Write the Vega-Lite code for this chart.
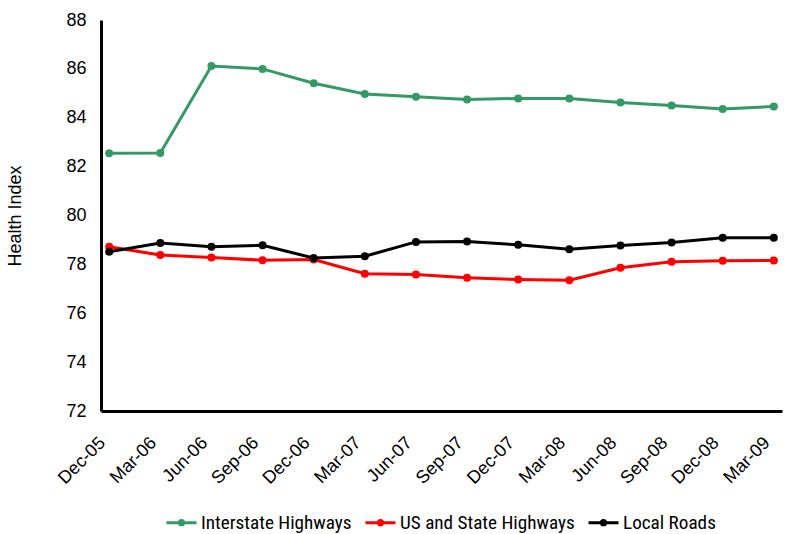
{
  "$schema": "https://vega.github.io/schema/vega-lite/v6.json",
  "width": 681,
  "height": 391,
  "autosize": {"type": "none"},
  "padding": {"left": 101, "top": 20, "right": 5, "bottom": 123},
  "background": "white",
  "config": {
    "view": {"stroke": null},
    "font": "Liberation Sans, Arial, sans-serif"
  },
  "data": {
    "values": [
      {"date": "Dec-05", "series": "Interstate Highways", "value": 82.55},
      {"date": "Mar-06", "series": "Interstate Highways", "value": 82.56},
      {"date": "Jun-06", "series": "Interstate Highways", "value": 86.12},
      {"date": "Sep-06", "series": "Interstate Highways", "value": 86.0},
      {"date": "Dec-06", "series": "Interstate Highways", "value": 85.41},
      {"date": "Mar-07", "series": "Interstate Highways", "value": 84.97},
      {"date": "Jun-07", "series": "Interstate Highways", "value": 84.86},
      {"date": "Sep-07", "series": "Interstate Highways", "value": 84.75},
      {"date": "Dec-07", "series": "Interstate Highways", "value": 84.79},
      {"date": "Mar-08", "series": "Interstate Highways", "value": 84.79},
      {"date": "Jun-08", "series": "Interstate Highways", "value": 84.62},
      {"date": "Sep-08", "series": "Interstate Highways", "value": 84.5},
      {"date": "Dec-08", "series": "Interstate Highways", "value": 84.36},
      {"date": "Mar-09", "series": "Interstate Highways", "value": 84.46},
      {"date": "Dec-05", "series": "US and State Highways", "value": 78.72},
      {"date": "Mar-06", "series": "US and State Highways", "value": 78.38},
      {"date": "Jun-06", "series": "US and State Highways", "value": 78.28},
      {"date": "Sep-06", "series": "US and State Highways", "value": 78.17},
      {"date": "Dec-06", "series": "US and State Highways", "value": 78.2},
      {"date": "Mar-07", "series": "US and State Highways", "value": 77.62},
      {"date": "Jun-07", "series": "US and State Highways", "value": 77.59},
      {"date": "Sep-07", "series": "US and State Highways", "value": 77.45},
      {"date": "Dec-07", "series": "US and State Highways", "value": 77.38},
      {"date": "Mar-08", "series": "US and State Highways", "value": 77.35},
      {"date": "Jun-08", "series": "US and State Highways", "value": 77.86},
      {"date": "Sep-08", "series": "US and State Highways", "value": 78.11},
      {"date": "Dec-08", "series": "US and State Highways", "value": 78.15},
      {"date": "Mar-09", "series": "US and State Highways", "value": 78.16},
      {"date": "Dec-05", "series": "Local Roads", "value": 78.52},
      {"date": "Mar-06", "series": "Local Roads", "value": 78.87},
      {"date": "Jun-06", "series": "Local Roads", "value": 78.72},
      {"date": "Sep-06", "series": "Local Roads", "value": 78.78},
      {"date": "Dec-06", "series": "Local Roads", "value": 78.26},
      {"date": "Mar-07", "series": "Local Roads", "value": 78.33},
      {"date": "Jun-07", "series": "Local Roads", "value": 78.92},
      {"date": "Sep-07", "series": "Local Roads", "value": 78.94},
      {"date": "Dec-07", "series": "Local Roads", "value": 78.8},
      {"date": "Mar-08", "series": "Local Roads", "value": 78.62},
      {"date": "Jun-08", "series": "Local Roads", "value": 78.77},
      {"date": "Sep-08", "series": "Local Roads", "value": 78.9},
      {"date": "Dec-08", "series": "Local Roads", "value": 79.09},
      {"date": "Mar-09", "series": "Local Roads", "value": 79.09}
    ]
  },
  "encoding": {
    "x": {
      "field": "date",
      "type": "ordinal",
      "sort": null,
      "scale": {"type": "point", "padding": 0.16},
      "axis": {
        "title": null,
        "labelAngle": -45,
        "labelAlign": "right",
        "labelBaseline": "middle",
        "labelFontSize": 18,
        "labelColor": "#000",
        "labelPadding": 29,
        "labelOffset": -7,
        "labelOverlap": false,
        "ticks": false,
        "domainColor": "#000",
        "domainWidth": 3,
        "grid": false
      }
    },
    "y": {
      "field": "value",
      "type": "quantitative",
      "scale": {"domain": [72, 88], "zero": false, "nice": false},
      "axis": {
        "title": "Health Index",
        "titleFontSize": 18,
        "titleFontWeight": "normal",
        "titleColor": "#000",
        "titlePadding": 41,
        "values": [72, 74, 76, 78, 80, 82, 84, 86, 88],
        "labelFontSize": 18,
        "labelColor": "#000",
        "labelPadding": 15,
        "ticks": false,
        "domainColor": "#000",
        "domainWidth": 3,
        "grid": false
      }
    },
    "color": {
      "field": "series",
      "type": "nominal",
      "scale": {
        "domain": ["Interstate Highways", "US and State Highways", "Local Roads"],
        "range": ["#339966", "#ff0000", "#000000"]
      },
      "legend": {
        "title": null,
        "orient": "none",
        "legendX": 64,
        "legendY": 486,
        "direction": "horizontal",
        "labelFont": "Liberation Sans Narrow, Roboto Condensed, sans-serif",
        "labelFontSize": 19.2,
        "labelLimit": 400,
        "labelColor": "#000",
        "symbolType": "M-1,0L1,0M-0.14,0A0.14,0.14 0 1,0 0.14,0A0.14,0.14 0 1,0 -0.14,0",
        "symbolSize": 900,
        "symbolStrokeWidth": 3,
        "columnPadding": 7,
        "labelOffset": 3
      }
    }
  },
  "layer": [
    {"mark": {"type": "line", "strokeWidth": 3}},
    {"mark": {"type": "circle", "size": 64, "opacity": 1}}
  ]
}
